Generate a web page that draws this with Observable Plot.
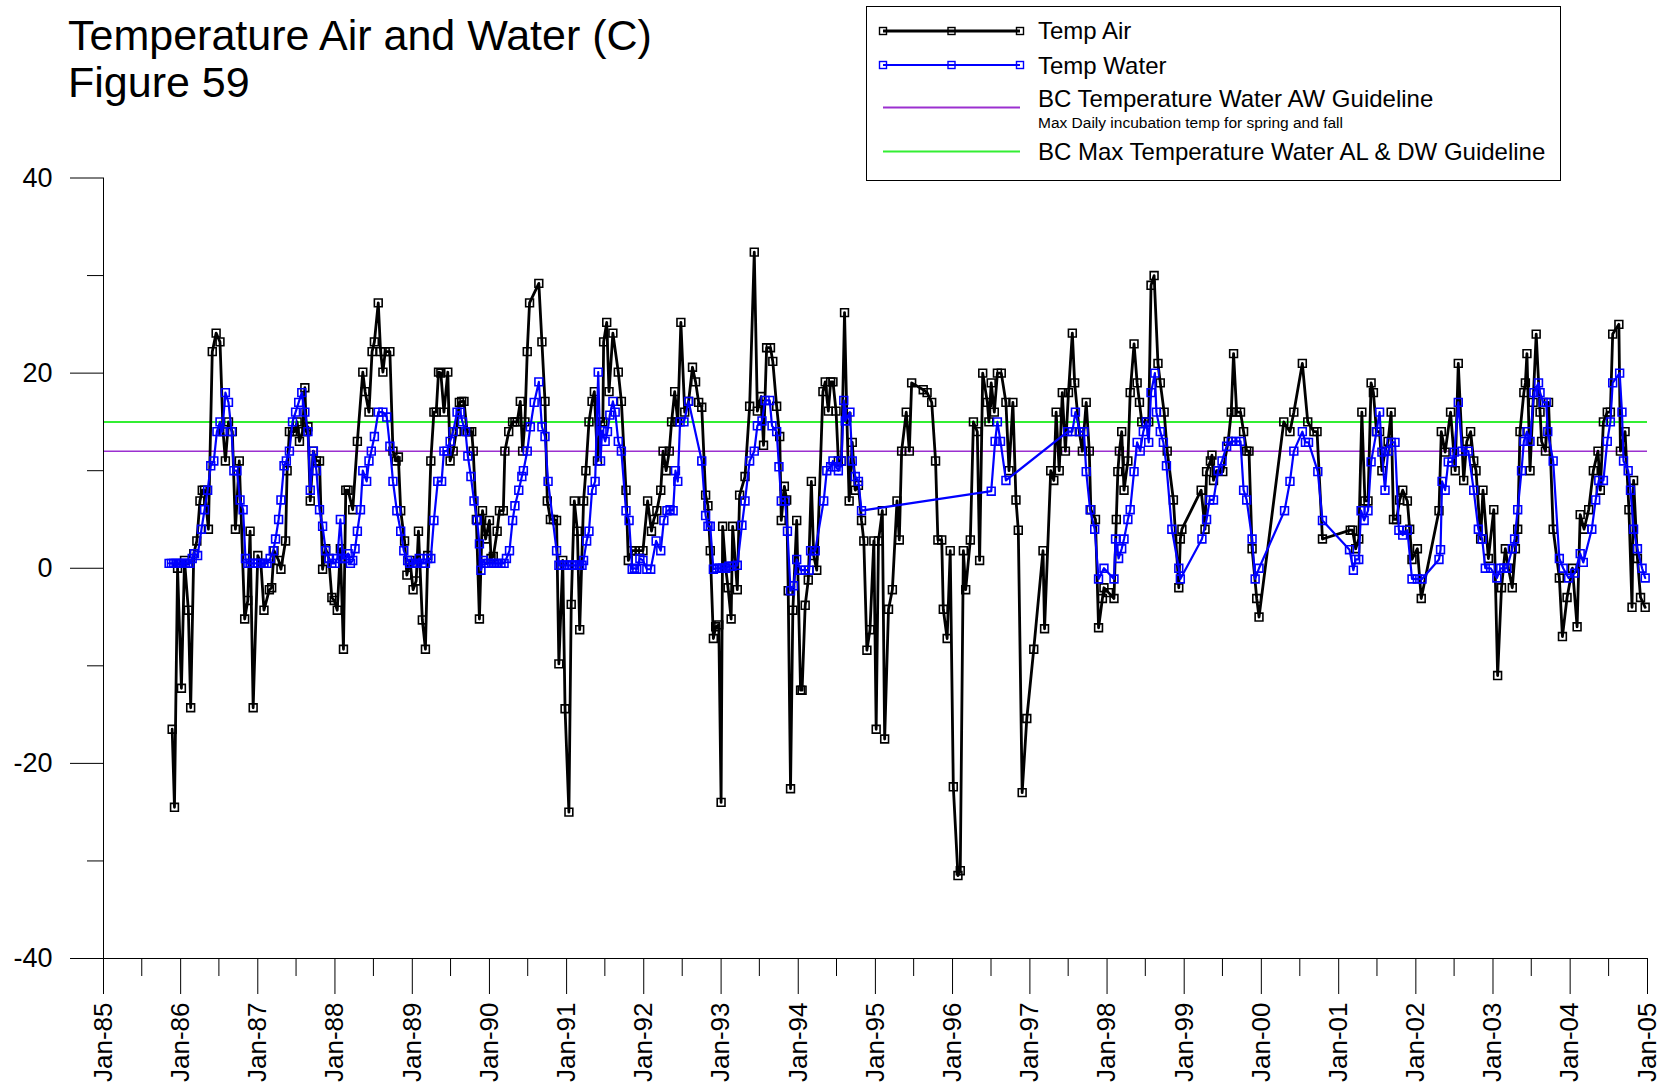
<!DOCTYPE html>
<html>
<head>
<meta charset="utf-8">
<script src="https://cdn.jsdelivr.net/npm/d3@7"></script>
<script src="https://cdn.jsdelivr.net/npm/@observablehq/plot@0.6"></script>
<style>
  body { margin: 0; background: #fff; font-family: 'Liberation Sans', Arial, sans-serif; }
  #wrap { position: relative; width: 1667px; height: 1084px; overflow: hidden; background: #fff; }
  #chart { position: absolute; left: 0; top: 0; }
  #title { position: absolute; left: 68px; top: 12px; font-size: 43px; line-height: 47px; color: #000; white-space: nowrap; }
  #legend { position: absolute; left: 866px; top: 6px; }
</style>
</head>
<body>
<div id="wrap">
  <div id="chart"></div>
  <div id="title">Temperature Air and Water (C)<br>Figure 59</div>
  <div id="legend"></div>
</div>
<script>
// ---- data: [decimal year, temperature °C] ----
const airTemp = [
[1985.89,-16.5],[1985.92,-24.5],[1985.96,0],[1986.01,-12.3],[1986.05,0.8],[1986.10,-4.3],[1986.13,-14.3],[1986.17,1.5],
[1986.21,2.8],[1986.25,6.9],[1986.28,8],[1986.31,8],[1986.36,4],[1986.41,22.2],[1986.46,24.1],[1986.51,23.2],
[1986.55,14],[1986.58,11],[1986.62,15],[1986.67,14],[1986.71,4],[1986.76,11],[1986.83,-5.2],[1986.87,-3.3],
[1986.90,3.8],[1986.94,-14.3],[1987.00,1.3],[1987.04,0.5],[1987.08,-4.3],[1987.15,-2.2],[1987.18,-2],[1987.21,1.8],
[1987.27,0.8],[1987.30,-0.1],[1987.36,2.8],[1987.38,10],[1987.41,14],[1987.45,14],[1987.48,14],[1987.51,15],
[1987.54,13],[1987.58,14],[1987.61,18.5],[1987.63,14],[1987.65,14.5],[1987.68,6.9],[1987.72,12],[1987.76,11],
[1987.80,11],[1987.84,-0.1],[1987.88,2],[1987.92,1],[1987.96,-3],[1987.99,-3.3],[1988.03,-4.3],[1988.07,2],
[1988.11,-8.3],[1988.14,8],[1988.17,8],[1988.23,6],[1988.29,13],[1988.36,20.1],[1988.39,18.1],[1988.44,16],
[1988.48,22.2],[1988.51,23.2],[1988.56,27.2],[1988.59,22.2],[1988.62,20.1],[1988.65,22.2],[1988.71,22.2],[1988.75,12],
[1988.79,11],[1988.82,11.4],[1988.85,5.9],[1988.90,2.8],[1988.93,-0.7],[1988.97,0.8],[1989.01,-2.2],[1989.05,-1.3],
[1989.08,3.8],[1989.13,-5.3],[1989.17,-8.3],[1989.20,1.3],[1989.24,11],[1989.28,16],[1989.31,16],[1989.34,20.1],
[1989.37,20],[1989.41,16],[1989.46,20.1],[1989.49,11],[1989.53,12],[1989.57,14],[1989.61,17],[1989.64,17.1],
[1989.67,17.1],[1989.71,14],[1989.74,14],[1989.77,14],[1989.79,12],[1989.83,5],[1989.87,-5.2],[1989.91,5.9],
[1989.95,3],[1990.00,4.9],[1990.02,1],[1990.05,1.2],[1990.10,3.8],[1990.13,5.9],[1990.18,5.9],[1990.20,12],
[1990.25,14],[1990.30,15],[1990.33,15],[1990.36,15],[1990.40,17.1],[1990.43,12],[1990.46,15],[1990.49,22.2],
[1990.52,27.2],[1990.64,29.2],[1990.68,23.2],[1990.72,17.1],[1990.75,6.9],[1990.79,5],[1990.83,5],[1990.87,4.9],
[1990.90,-9.8],[1990.95,0.8],[1990.98,-14.4],[1991.03,-25],[1991.06,-3.7],[1991.10,6.9],[1991.14,3.8],[1991.17,-6.3],
[1991.22,6.9],[1991.25,10],[1991.29,15],[1991.33,17.1],[1991.36,18.1],[1991.40,11],[1991.44,15],[1991.47,15],
[1991.48,23.2],[1991.52,25.2],[1991.55,18.1],[1991.60,24.1],[1991.67,20.1],[1991.71,17.1],[1991.77,8],[1991.80,0.8],
[1991.85,1.8],[1991.89,1.8],[1991.94,1.8],[1991.99,1.8],[1992.05,6.9],[1992.10,3.8],[1992.13,5],[1992.17,5.9],
[1992.22,8],[1992.25,12],[1992.29,10],[1992.33,12],[1992.36,15],[1992.40,18.1],[1992.44,15],[1992.48,25.2],
[1992.53,16],[1992.58,17.1],[1992.63,20.6],[1992.67,19.1],[1992.71,17],[1992.75,16.5],[1992.80,7.5],[1992.83,6.4],
[1992.86,1.8],[1992.90,-7.2],[1992.93,-6],[1992.97,-5.8],[1993.00,-24],[1993.02,4.3],[1993.06,0],[1993.09,-2],
[1993.13,-5.2],[1993.15,4.3],[1993.21,-2.2],[1993.24,7.5],[1993.31,9.4],[1993.37,16.6],[1993.43,32.4],[1993.47,16.1],
[1993.52,17.6],[1993.55,12.6],[1993.59,22.6],[1993.64,22.6],[1993.67,21.2],[1993.72,16.6],[1993.76,13.5],[1993.78,4.9],
[1993.82,8.4],[1993.85,7],[1993.87,-2.3],[1993.90,-22.6],[1993.93,-4.3],[1993.98,4.9],[1994.03,-12.5],[1994.05,-12.5],
[1994.09,-3.8],[1994.13,-1.2],[1994.17,8.9],[1994.20,1.3],[1994.24,-0.2],[1994.32,18.1],[1994.35,19.1],[1994.39,16.1],
[1994.42,19.1],[1994.45,19.1],[1994.49,16.1],[1994.52,11],[1994.56,11],[1994.60,26.2],[1994.63,15.5],[1994.66,6.9],
[1994.70,12.9],[1994.74,8],[1994.78,8.5],[1994.82,4.9],[1994.85,2.8],[1994.89,-8.4],[1994.93,-6.3],[1994.98,2.8],
[1995.01,-16.5],[1995.04,2.8],[1995.09,5.9],[1995.12,-17.5],[1995.17,-4.2],[1995.22,-2.2],[1995.28,6.9],[1995.31,2.9],
[1995.34,12],[1995.40,16],[1995.44,12],[1995.47,19],[1995.62,18.3],[1995.67,18],[1995.73,17],[1995.78,11],
[1995.81,2.9],[1995.86,2.9],[1995.88,-4.2],[1995.93,-7.2],[1995.97,1.8],[1996.01,-22.4],[1996.07,-31.5],[1996.10,-31],
[1996.14,1.8],[1996.17,-2.2],[1996.23,2.9],[1996.27,15],[1996.32,14],[1996.35,0.8],[1996.39,20],[1996.45,17],
[1996.47,15],[1996.50,19],[1996.54,16],[1996.58,20],[1996.63,20],[1996.69,17],[1996.73,10],[1996.78,17],
[1996.82,7],[1996.85,3.9],[1996.90,-23],[1996.96,-15.4],[1997.05,-8.3],[1997.17,1.8],[1997.19,-6.2],[1997.27,10],
[1997.31,9],[1997.34,16],[1997.38,10],[1997.42,18],[1997.46,12],[1997.50,18],[1997.55,24.1],[1997.58,19],
[1997.64,14],[1997.68,12],[1997.73,17],[1997.77,12],[1997.79,6],[1997.85,5],[1997.89,-6.1],[1997.94,-3.1],
[1997.96,-2],[1998.02,-2.5],[1998.09,-3.1],[1998.12,5],[1998.14,9.9],[1998.16,12],[1998.19,14],[1998.22,8],
[1998.27,11],[1998.30,18],[1998.35,23],[1998.39,19],[1998.42,17],[1998.45,15],[1998.50,15],[1998.54,15],
[1998.57,29],[1998.61,30],[1998.66,21],[1998.69,19],[1998.74,16],[1998.78,12],[1998.86,7],[1998.93,-2],
[1998.95,3],[1998.97,4],[1999.22,8],[1999.27,4],[1999.29,9.9],[1999.34,11],[1999.36,11.6],[1999.38,9],
[1999.42,10],[1999.50,9.9],[1999.57,13],[1999.61,16],[1999.64,22],[1999.68,16],[1999.73,16],[1999.77,14],
[1999.81,12],[1999.84,12],[1999.88,2],[1999.94,-3.1],[1999.97,-5],[2000.29,15],[2000.37,14],[2000.42,16],
[2000.53,21],[2000.60,15],[2000.68,14],[2000.72,14],[2000.79,3],[2001.15,3.9],[2001.18,3.9],[2001.22,2],
[2001.26,3],[2001.30,16],[2001.34,6.9],[2001.38,6.9],[2001.42,19],[2001.45,18],[2001.49,14],[2001.53,14],
[2001.56,10],[2001.60,12],[2001.64,13],[2001.68,16],[2001.71,5],[2001.75,5],[2001.79,7],[2001.83,8],
[2001.89,6.9],[2001.92,4],[2001.95,0.9],[2002.02,2],[2002.07,-3.1],[2002.30,5.9],[2002.33,14],[2002.38,11.9],
[2002.45,16],[2002.51,10],[2002.55,21],[2002.62,9],[2002.66,13],[2002.71,14],[2002.75,11],[2002.78,10],
[2002.84,3],[2002.87,8],[2002.94,1],[2003.01,6],[2003.06,-11],[2003.11,-2],[2003.16,2],[2003.20,0],
[2003.25,-2],[2003.29,2],[2003.32,4],[2003.35,14],[2003.40,18],[2003.42,19],[2003.44,22],[2003.48,10],
[2003.52,17],[2003.56,24],[2003.61,16],[2003.63,13],[2003.68,12],[2003.72,17],[2003.78,4],[2003.86,-1],
[2003.90,-7],[2003.96,-3],[2004.03,0],[2004.09,-6],[2004.13,5.5],[2004.18,4],[2004.24,6],[2004.30,10],
[2004.36,12],[2004.39,8],[2004.43,15],[2004.48,16],[2004.52,16],[2004.55,24],[2004.63,25],[2004.65,12],
[2004.71,14],[2004.76,6],[2004.80,-4],[2004.82,9],[2004.87,1],[2004.91,-3],[2004.97,-4]
];

const waterTemp = [
[1985.85,0.5],[1985.88,0.5],[1985.91,0.5],[1985.94,0.5],[1985.97,0.5],[1986.00,0.5],[1986.03,0.5],[1986.06,0.5],
[1986.09,0.5],[1986.12,0.5],[1986.15,1],[1986.18,1.5],[1986.22,1.3],[1986.27,4],[1986.31,6],[1986.35,8],
[1986.39,10.5],[1986.43,11],[1986.47,14],[1986.51,15],[1986.54,14],[1986.58,18],[1986.62,17],[1986.66,14],
[1986.69,10],[1986.73,10],[1986.77,7],[1986.81,6],[1986.84,1],[1986.87,0.5],[1986.90,0.5],[1986.94,0.5],
[1986.97,0.5],[1987.00,0.5],[1987.04,0.5],[1987.08,0.5],[1987.12,0.5],[1987.16,1],[1987.20,1.8],[1987.23,3],
[1987.27,5],[1987.30,7],[1987.34,10.5],[1987.37,11],[1987.41,12],[1987.45,15],[1987.49,16],[1987.53,17],
[1987.57,18],[1987.61,16],[1987.65,14],[1987.68,8],[1987.72,12],[1987.76,10],[1987.80,6],[1987.84,4.3],
[1987.88,1.8],[1987.92,1],[1987.96,0.5],[1988.00,0.5],[1988.03,1],[1988.07,5],[1988.10,1],[1988.14,1],
[1988.17,1.5],[1988.20,0.5],[1988.23,0.8],[1988.26,2],[1988.29,3.8],[1988.33,6],[1988.36,10],[1988.41,8.9],
[1988.44,11],[1988.47,12],[1988.51,13.5],[1988.56,16],[1988.62,16],[1988.67,15.5],[1988.71,12.5],[1988.75,8.9],
[1988.80,5.9],[1988.85,3.8],[1988.89,1.8],[1988.94,0.8],[1988.97,0.5],[1989.01,0.5],[1989.05,0.5],[1989.09,1],
[1989.13,0.5],[1989.17,0.5],[1989.20,1],[1989.24,1],[1989.28,4.9],[1989.33,8.9],[1989.38,8.9],[1989.41,12],
[1989.45,12],[1989.49,13],[1989.53,14],[1989.58,16],[1989.62,16],[1989.65,15],[1989.69,14],[1989.72,11.5],
[1989.76,9.4],[1989.80,6.9],[1989.84,4.9],[1989.87,2.5],[1989.89,-0.2],[1989.92,0.8],[1989.95,0.5],[1989.99,0.5],
[1990.03,0.5],[1990.07,0.5],[1990.11,0.5],[1990.15,0.5],[1990.19,0.5],[1990.22,1],[1990.26,1.8],[1990.30,4.9],
[1990.33,6.4],[1990.38,8],[1990.42,9.4],[1990.44,10],[1990.49,12],[1990.53,14.5],[1990.58,17],[1990.64,19.1],
[1990.68,14.5],[1990.72,13.5],[1990.76,8.9],[1990.87,1.8],[1990.90,0.3],[1990.93,0.3],[1990.97,0.3],[1991.00,0.3],
[1991.04,0.3],[1991.07,0.3],[1991.10,0.3],[1991.14,0.3],[1991.17,0.3],[1991.20,0.3],[1991.22,0.8],[1991.26,2.8],
[1991.29,3.8],[1991.33,8],[1991.37,8.9],[1991.41,20.1],[1991.44,11],[1991.46,14.1],[1991.50,13],[1991.53,14],
[1991.56,15.7],[1991.60,17.1],[1991.63,16],[1991.67,13],[1991.71,12],[1991.77,5.9],[1991.81,4.9],[1991.85,-0.1],
[1991.88,0],[1991.91,-0.1],[1991.95,1],[1991.99,0.8],[1992.04,-0.1],[1992.09,-0.1],[1992.16,2.8],[1992.22,1.8],
[1992.26,4.9],[1992.30,5.9],[1992.34,6],[1992.38,5.9],[1992.41,10],[1992.44,8.9],[1992.47,15],[1992.52,15],
[1992.58,17.1],[1992.75,11],[1992.80,5.4],[1992.83,4.3],[1992.86,4.3],[1992.90,-0.1],[1992.94,0],[1992.98,0],
[1993.02,0],[1993.06,0],[1993.10,0.2],[1993.14,0.2],[1993.21,0.3],[1993.27,4.4],[1993.31,6.9],[1993.37,11],
[1993.43,12],[1993.47,14.6],[1993.53,15.1],[1993.57,17.2],[1993.63,17.2],[1993.66,14.6],[1993.72,14],[1993.75,10.4],
[1993.78,6.9],[1993.83,6.9],[1993.86,3.8],[1993.90,-2.3],[1993.94,-1.8],[1993.98,0.9],[1994.03,-0.2],[1994.09,-0.2],
[1994.14,-0.2],[1994.16,1.8],[1994.22,1.8],[1994.33,6.9],[1994.37,10],[1994.42,10.4],[1994.45,11],[1994.49,10.4],
[1994.52,10],[1994.56,11],[1994.59,17.2],[1994.61,15.1],[1994.67,16],[1994.70,11],[1994.74,9.4],[1994.78,8.9],
[1994.82,5.9],[1996.50,7.9],[1996.55,13],[1996.58,15],[1996.62,13],[1996.69,9],[1997.49,14],[1997.55,14],
[1997.59,16],[1997.65,14],[1997.70,14],[1997.73,9.9],[1997.78,6],[1997.84,4],[1997.89,-1.1],[1997.96,0],
[1998.09,-1.1],[1998.11,3],[1998.15,1],[1998.19,2],[1998.22,3],[1998.27,5],[1998.30,6],[1998.35,9.9],
[1998.39,12.9],[1998.43,12],[1998.47,14],[1998.51,15],[1998.54,12.9],[1998.57,18],[1998.62,20],[1998.64,16],
[1998.69,14],[1998.73,12.9],[1998.77,10.5],[1998.84,4],[1998.93,0],[1998.95,-1.1],[1999.23,3],[1999.29,5],
[1999.33,7],[1999.38,7],[1999.44,10],[1999.49,11],[1999.55,12.5],[1999.61,13],[1999.67,13],[1999.73,13],
[1999.77,8],[1999.81,7],[1999.88,3],[1999.92,-1.1],[1999.97,0],[2000.30,5.9],[2000.37,8.9],[2000.42,12],
[2000.53,14],[2000.57,12.9],[2000.61,12.9],[2000.73,9.9],[2000.79,4.9],[2001.14,1.9],[2001.19,-0.2],[2001.22,0.9],
[2001.26,0.9],[2001.29,5.9],[2001.33,4.9],[2001.38,5.9],[2001.42,10.9],[2001.49,14],[2001.53,16],[2001.56,11.9],
[2001.60,8],[2001.64,12],[2001.68,12.9],[2001.73,12.9],[2001.78,3.9],[2001.83,3.4],[2001.89,3.9],[2001.95,-1.1],
[2002.02,-1.1],[2002.08,-1.1],[2002.30,0.9],[2002.32,1.9],[2002.34,8.9],[2002.38,8],[2002.42,10.9],[2002.47,10.9],
[2002.50,11.9],[2002.55,17],[2002.60,12],[2002.68,12],[2002.75,8],[2002.81,4],[2002.86,3],[2002.90,0],
[2002.97,0],[2003.05,-1],[2003.10,0],[2003.14,0],[2003.18,0],[2003.25,2],[2003.28,3],[2003.32,6],
[2003.37,10],[2003.40,13],[2003.44,14],[2003.48,13],[2003.53,18],[2003.59,19],[2003.61,18],[2003.65,17],
[2003.69,17],[2003.71,14],[2003.78,11],[2003.86,1],[2003.91,0],[2003.98,-1],[2004.06,-0.5],[2004.13,1.5],
[2004.17,0.6],[2004.28,4],[2004.33,7],[2004.37,9],[2004.43,9],[2004.48,13],[2004.52,15],[2004.55,19],
[2004.64,20],[2004.67,16],[2004.69,11],[2004.75,10],[2004.78,8],[2004.82,4],[2004.87,2],[2004.93,0],
[2004.97,-1]
];

const guidelineAW = [12];        // BC Temperature Water AW Guideline
const guidelineALDW = [15];      // BC Max Temperature Water AL & DW Guideline
const yMajorTicks = [-40, -20, 0, 20, 40];
const yMinorTicks = [-30, -10, 10, 30];
const xTickYears = [1985,1986,1987,1988,1989,1990,1991,1992,1993,1994,1995,1996,1997,1998,1999,2000,2001,2002,2003,2004,2005];
const xMinorYears = [1985,1986,1987,1988,1989,1990,1991,1992,1993,1994,1995,1996,1997,1998,1999,2000,2001,2002,2003,2004];
const legendLabels = ["Temp Air", "Temp Water", "BC Temperature Water AW Guideline", "BC Max Temperature Water AL & DW Guideline"];
const legendNote = "Max Daily incubation temp for spring and fall";

// ---- helpers ----
const toDate = (y) => {
  const yr = Math.floor(y);
  const start = Date.UTC(yr, 0, 1), end = Date.UTC(yr + 1, 0, 1);
  return new Date(start + (y - yr) * (end - start));
};
const air = airTemp.map(([t, v]) => ({date: toDate(t), value: v}));
const water = waterTemp.map(([t, v]) => ({date: toDate(t), value: v}));
const majorX = xTickYears.map(y => new Date(Date.UTC(y, 0, 1)));
const minorX = xMinorYears.map(y => new Date(Date.UTC(y, 6, 1)));
const xStart = majorX[0], xEnd = majorX[majorX.length - 1];

const AIR = "#000000", WATER = "#0000ff", PURPLE = "#9b30d0", GREEN = "#33ee33";
const fmt = d3.utcFormat("%b-%y");

const chart = Plot.plot({
  width: 1667,
  height: 1084,
  marginLeft: 103,
  marginRight: 20,
  marginTop: 177.5,
  marginBottom: 126,
  style: {fontFamily: "'Liberation Sans', Arial, sans-serif", background: "transparent", color: "#000", overflow: "visible"},
  x: {type: "utc", domain: [xStart, xEnd]},
  y: {domain: [-40, 40]},
  marks: [
    Plot.ruleY(guidelineAW, {x1: xStart, x2: xEnd, stroke: PURPLE, strokeWidth: 1.6}),
    Plot.ruleY(guidelineALDW, {x1: xStart, x2: xEnd, stroke: GREEN, strokeWidth: 2}),
    Plot.line(air, {x: "date", y: "value", stroke: AIR, strokeWidth: 2.8}),
    Plot.dot(air, {x: "date", y: "value", symbol: "square", r: 4.4, stroke: AIR, strokeWidth: 1.6, fill: "none"}),
    Plot.line(water, {x: "date", y: "value", stroke: WATER, strokeWidth: 2.2}),
    Plot.dot(water, {x: "date", y: "value", symbol: "square", r: 4.4, stroke: WATER, strokeWidth: 1.6, fill: "none"}),
    Plot.ruleX([xStart], {y1: -40, y2: 40, stroke: "#000", strokeWidth: 1}),
    Plot.ruleY([-40], {x1: xStart, x2: xEnd, stroke: "#000", strokeWidth: 1.2}),
    Plot.axisY({ticks: yMajorTicks, tickSize: 33, tickPadding: 18, fontSize: 27, tickFormat: d => String(d), label: null}),
    Plot.axisY({ticks: yMinorTicks, tickSize: 16, tickFormat: () => "", label: null}),
    Plot.axisX({ticks: majorX, tickSize: 36, tickPadding: 8, tickRotate: -90, fontSize: 26, tickFormat: fmt, label: null}),
    Plot.axisX({ticks: minorX, tickSize: 18, tickFormat: () => "", label: null})
  ]
});
document.getElementById("chart").appendChild(chart);

// ---- legend ----
const lg = d3.select("#legend").append("svg")
  .attr("width", 696).attr("height", 176)
  .style("font-family", "'Liberation Sans', Arial, sans-serif");
lg.append("rect").attr("x", 0.5).attr("y", 0.5).attr("width", 694).attr("height", 174)
  .attr("fill", "#fff").attr("stroke", "#000").attr("stroke-width", 1);

const rows = [
  {y: 25, color: AIR, w: 2.8, markers: true, label: legendLabels[0], base: 33},
  {y: 59, color: WATER, w: 2.2, markers: true, label: legendLabels[1], base: 67.5},
  {y: 101.5, color: PURPLE, w: 2, markers: false, label: legendLabels[2], base: 101},
  {y: 145.5, color: GREEN, w: 2, markers: false, label: legendLabels[3], base: 154}
];
rows.forEach(r => {
  lg.append("line").attr("x1", 17).attr("x2", 154).attr("y1", r.y).attr("y2", r.y)
    .attr("stroke", r.color).attr("stroke-width", r.w);
  if (r.markers) {
    [17, 85.5, 154].forEach(mx => {
      lg.append("rect").attr("x", mx - 3.5).attr("y", r.y - 3.5).attr("width", 7).attr("height", 7)
        .attr("fill", "none").attr("stroke", r.color).attr("stroke-width", 1.4);
    });
  }
  lg.append("text").attr("x", 172).attr("y", r.base).attr("font-size", 24).attr("fill", "#000").text(r.label);
});
lg.append("text").attr("x", 172).attr("y", 121.5).attr("font-size", 15.5).attr("fill", "#000").text(legendNote);
</script>
</body>
</html>
